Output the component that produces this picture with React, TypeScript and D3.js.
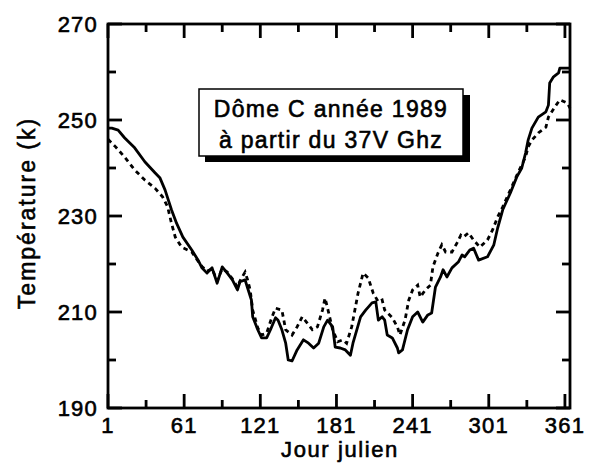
import React from "react";
import * as d3 from "d3";

const solidDays = [1, 4, 9, 14, 22, 30, 38, 42, 46, 51, 55, 60, 67, 72, 75, 79, 83, 87, 91, 95, 99, 103, 105, 109, 111, 114, 115, 119, 122, 126, 129, 133, 135, 138, 141, 143, 146, 150, 155, 159, 163, 167, 171, 174, 178, 180, 184, 188, 192, 194, 200, 204, 209, 212, 214, 217, 219, 221, 225, 229, 230, 233, 237, 241, 245, 249, 253, 256, 259, 263, 265, 268, 272, 277, 280, 282, 286, 289, 293, 300, 305, 308, 312, 318, 323, 327, 330, 332, 335, 340, 346, 348, 349, 352, 356, 357, 361, 365];
const solidVals = [248.3, 248.3, 247.9, 246.3, 244.2, 241.3, 239.0, 237.9, 235.4, 231.3, 228.5, 225.6, 222.9, 220.8, 219.2, 218.1, 219.2, 216.0, 219.4, 218.1, 216.7, 214.6, 216.3, 216.7, 215.0, 212.5, 209.0, 206.3, 204.6, 204.6, 206.3, 208.8, 208.3, 206.3, 203.5, 200.0, 199.8, 202.1, 204.2, 203.5, 202.5, 203.5, 206.9, 208.3, 206.9, 202.7, 202.5, 202.1, 201.0, 203.5, 209.0, 210.4, 211.9, 212.1, 208.3, 209.0, 208.3, 205.2, 204.6, 202.5, 201.5, 202.1, 206.3, 209.0, 210.0, 207.9, 209.4, 209.8, 215.2, 217.3, 218.8, 217.3, 219.2, 220.4, 221.9, 221.5, 222.9, 223.3, 220.8, 221.5, 224.0, 227.5, 231.3, 234.8, 238.1, 240.0, 243.1, 245.8, 248.3, 250.6, 251.7, 253.1, 257.7, 259.0, 259.8, 260.8, 260.8, 260.8];

const dashDays = [1, 7, 14, 22, 30, 38, 44, 48, 51, 54, 59, 64, 67, 72, 75, 79, 83, 87, 91, 95, 99, 103, 105, 109, 111, 113, 115, 119, 122, 126, 130, 133, 138, 141, 146, 150, 154, 158, 162, 166, 170, 172, 174, 178, 182, 186, 189, 193, 198, 202, 206, 210, 214, 217, 219, 225, 229, 231, 235, 238, 241, 245, 247, 251, 255, 257, 261, 264, 267, 272, 276, 279, 281, 285, 289, 294, 300, 304, 308, 312, 318, 324, 330, 332, 335, 340, 346, 348, 353, 357, 363, 365];
const dashVals = [246.0, 244.4, 242.3, 239.6, 237.5, 235.8, 234.0, 231.9, 228.5, 225.6, 223.5, 222.9, 222.5, 220.6, 219.5, 218.5, 219.0, 216.5, 219.0, 218.3, 216.9, 215.2, 216.5, 218.3, 216.7, 214.6, 210.4, 206.7, 205.2, 205.6, 208.8, 210.8, 210.4, 206.3, 205.2, 206.9, 209.0, 207.7, 206.3, 206.9, 210.4, 212.9, 210.8, 206.3, 203.8, 204.2, 203.5, 206.9, 213.9, 218.1, 217.1, 213.9, 212.1, 212.5, 210.4, 208.8, 206.9, 205.2, 208.3, 212.5, 214.6, 215.6, 213.1, 214.6, 215.6, 219.4, 222.3, 224.0, 222.5, 222.5, 224.4, 226.0, 225.6, 226.5, 225.0, 223.5, 225.0, 227.1, 229.8, 231.9, 235.4, 239.0, 242.3, 244.4, 245.8, 247.3, 248.5, 250.6, 252.7, 254.2, 253.5, 252.5];

const xTickMajor = [1, 61, 121, 181, 241, 301, 361];
const xTickMinor = [31, 91, 151, 211, 271, 331];
const yTickMajor = [190, 210, 230, 250, 270];
const yTickMinor = [200, 220, 240, 260];

const FONT = "'Liberation Sans', Arial, Helvetica, sans-serif";

export default function App() {
  const x = d3.scaleLinear().domain([1, 365]).range([108, 570]);
  const y = d3.scaleLinear().domain([190, 270]).range([408, 24]);
  const L = x.range()[0], R = x.range()[1], T = y.range()[1], B = y.range()[0];

  const line = d3.line<[number, number]>().x(d => x(d[0])).y(d => y(d[1])).curve(d3.curveLinear);
  const solid = line(solidDays.map((d, i) => [d, solidVals[i]]))!;
  const dashed = line(dashDays.map((d, i) => [d, dashVals[i]]))!;

  const MAJ = 14, MIN = 8;
  const textStroke = { stroke: "#000", strokeWidth: 0.6 };

  return (
    <svg width={600} height={469} style={{ position: "absolute", left: 0, top: 0, background: "#fff" }}>
      <rect x={0} y={0} width={600} height={469} fill="#fff" />
      <g stroke="#000" strokeWidth={2.8}>
        {xTickMajor.map(t => (
          <g key={"xm" + t}>
            <line x1={x(t)} x2={x(t)} y1={B} y2={B - MAJ} />
            <line x1={x(t)} x2={x(t)} y1={T} y2={T + MAJ} />
          </g>
        ))}
        {xTickMinor.map(t => (
          <g key={"xn" + t}>
            <line x1={x(t)} x2={x(t)} y1={B} y2={B - MIN} />
            <line x1={x(t)} x2={x(t)} y1={T} y2={T + MIN} />
          </g>
        ))}
        {yTickMajor.map(t => (
          <g key={"ym" + t}>
            <line x1={L} x2={L + MAJ} y1={y(t)} y2={y(t)} />
            <line x1={R} x2={R - MAJ} y1={y(t)} y2={y(t)} />
          </g>
        ))}
        {yTickMinor.map(t => (
          <g key={"yn" + t}>
            <line x1={L} x2={L + MIN} y1={y(t)} y2={y(t)} />
            <line x1={R} x2={R - MIN} y1={y(t)} y2={y(t)} />
          </g>
        ))}
      </g>
      <path d={dashed} fill="none" stroke="#000" strokeWidth={2.8} strokeDasharray="4.5,4" />
      <path d={solid} fill="none" stroke="#000" strokeWidth={2.8} strokeLinejoin="round" />
      <rect x={L} y={T} width={R - L} height={B - T} fill="none" stroke="#000" strokeWidth={2.8} />
      <g fontFamily={FONT} fontSize={22} letterSpacing={1.2} fill="#000" {...textStroke}>
        {xTickMajor.map(t => (
          <text key={"xl" + t} x={x(t)} y={433} textAnchor="middle">{t}</text>
        ))}
        {yTickMajor.map(t => (
          <text key={"yl" + t} x={98} y={y(t) + 8} textAnchor="end">{t}</text>
        ))}
      </g>
      <text x={340} y={457} textAnchor="middle" fontFamily={FONT} fontSize={22} letterSpacing={1.6} {...textStroke}>Jour julien</text>
      <text transform="translate(35,213) rotate(-90)" textAnchor="middle" fontFamily={FONT} fontSize={23} letterSpacing={2} {...textStroke}>Température (k)</text>
      <rect x={205} y={95} width={265} height={67} fill="#000" />
      <rect x={199} y={89} width={264} height={67} fill="#fff" stroke="#000" strokeWidth={1.5} />
      <g fontFamily={FONT} fontSize={23} letterSpacing={1.3} textAnchor="middle" {...textStroke}>
        <text x={331} y={117}>Dôme C année 1989</text>
        <text x={331} y={148}>à partir du 37V Ghz</text>
      </g>
    </svg>
  );
}
